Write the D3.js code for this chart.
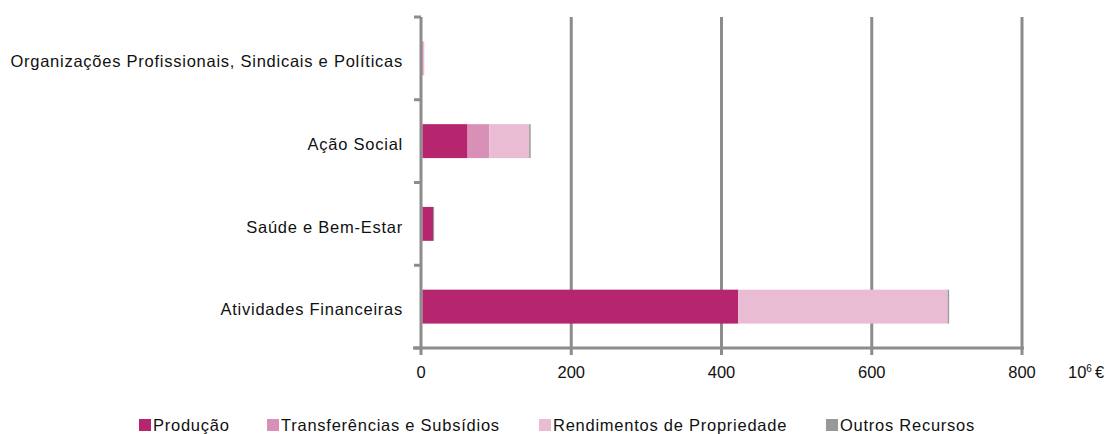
<!DOCTYPE html>
<html><head><meta charset="utf-8">
<script src="https://cdn.jsdelivr.net/npm/d3@7"></script>
<style>body{margin:0;background:#fff}svg{display:block}text{font-family:"Liberation Sans",Arial,sans-serif}</style>
</head><body><svg id="c" width="1109" height="434"></svg>
<script>
const categories = ["Organizações Profissionais, Sindicais e Políticas","Ação Social","Saúde e Bem-Estar","Atividades Financeiras"];
const seriesNames = ["Produção","Transferências e Subsídios","Rendimentos de Propriedade","Outros Recursos"];
const producao = [0.5, 60, 14, 420];
const transferencias = [0, 29, 0, 0];
const rendimentos = [1.5, 53, 0, 279];
const outros = [0.2, 2, 1.5, 2];
const xTicks = [0,200,400,600,800];
const colors = ["#b5266f","#d990b6","#e9bcd4","#999999"];

const svg = d3.select("#c");
const x = d3.scaleLinear().domain([0,800]).range([421,1022]);
const y = d3.scaleBand().domain(categories).range([17,348]).paddingInner(0.59).paddingOuter(0.295);
const yb = d3.scaleBand().domain(categories).range([17,348]);
const grey = "#8c8c8c";
const fs = 16.5, ls = 0.75;

// gridlines
svg.append("g").selectAll("line").data(xTicks.slice(1)).join("line")
  .attr("x1",d=>x(d)).attr("x2",d=>x(d)).attr("y1",17).attr("y2",348)
  .attr("stroke",grey).attr("stroke-width",3);

// left axis
const gy = svg.append("g");
gy.append("line").attr("x1",421).attr("x2",421).attr("y1",17).attr("y2",350).attr("stroke",grey).attr("stroke-width",3);
const bounds = categories.map(c=>yb(c)).concat([348]);
gy.selectAll("line.t").data(bounds).join("line").attr("class","t")
  .attr("x1",414).attr("x2",421).attr("y1",d=>d).attr("y2",d=>d).attr("stroke",grey).attr("stroke-width",3);
gy.selectAll("text").data(categories).join("text")
  .attr("x",403).attr("y",d=>yb(d)+yb.bandwidth()/2+3).attr("dy","0.35em")
  .attr("text-anchor","end").attr("font-size",fs).attr("letter-spacing",ls).attr("fill","#111").text(d=>d);

// stacked bars
const vals = [producao, transferencias, rendimentos, outros];
const rows = categories.map((c,i)=>{const o={cat:c}; seriesNames.forEach((s,j)=>o[s]=vals[j][i]); return o;});
const stack = d3.stack().keys(seriesNames)(rows);
svg.append("g").selectAll("g").data(stack).join("g").attr("fill",(d,i)=>colors[i])
  .selectAll("rect").data(d=>d).join("rect")
  .attr("x",d=>x(d[0])+1.5).attr("width",d=>Math.max(0,x(d[1])-x(d[0])))
  .attr("y",d=>y(d.data.cat)).attr("height",y.bandwidth());

// bottom axis
const gx = svg.append("g");
gx.append("line").attr("x1",413).attr("x2",1024).attr("y1",348).attr("y2",348).attr("stroke",grey).attr("stroke-width",3);
gx.selectAll("line.t").data(xTicks).join("line").attr("class","t")
  .attr("x1",d=>x(d)).attr("x2",d=>x(d)).attr("y1",348).attr("y2",355).attr("stroke",grey).attr("stroke-width",3);
gx.selectAll("text").data(xTicks).join("text")
  .attr("x",d=>x(d)).attr("y",372).attr("dy","0.35em").attr("text-anchor","middle").attr("font-size",fs).attr("fill","#111").text(d=>d);
const u = gx.append("text").attr("x",1068).attr("y",372).attr("dy","0.35em").attr("font-size",fs).attr("fill","#111");
u.append("tspan").text("10");
u.append("tspan").attr("font-size",10).attr("dy",-6).text("6");
u.append("tspan").attr("dy",6).attr("dx",3).text("€");

// legend
const legX = [139,267,539,826];
const lg = svg.append("g").selectAll("g").data(seriesNames).join("g")
  .attr("transform",(d,i)=>`translate(${legX[i]},419)`);
lg.append("rect").attr("width",12).attr("height",12).attr("fill",(d,i)=>colors[i]);
lg.append("text").attr("x",14).attr("y",6).attr("dy","0.36em").attr("font-size",fs).attr("letter-spacing",ls).attr("fill","#111").text(d=>d);
</script></body></html>
